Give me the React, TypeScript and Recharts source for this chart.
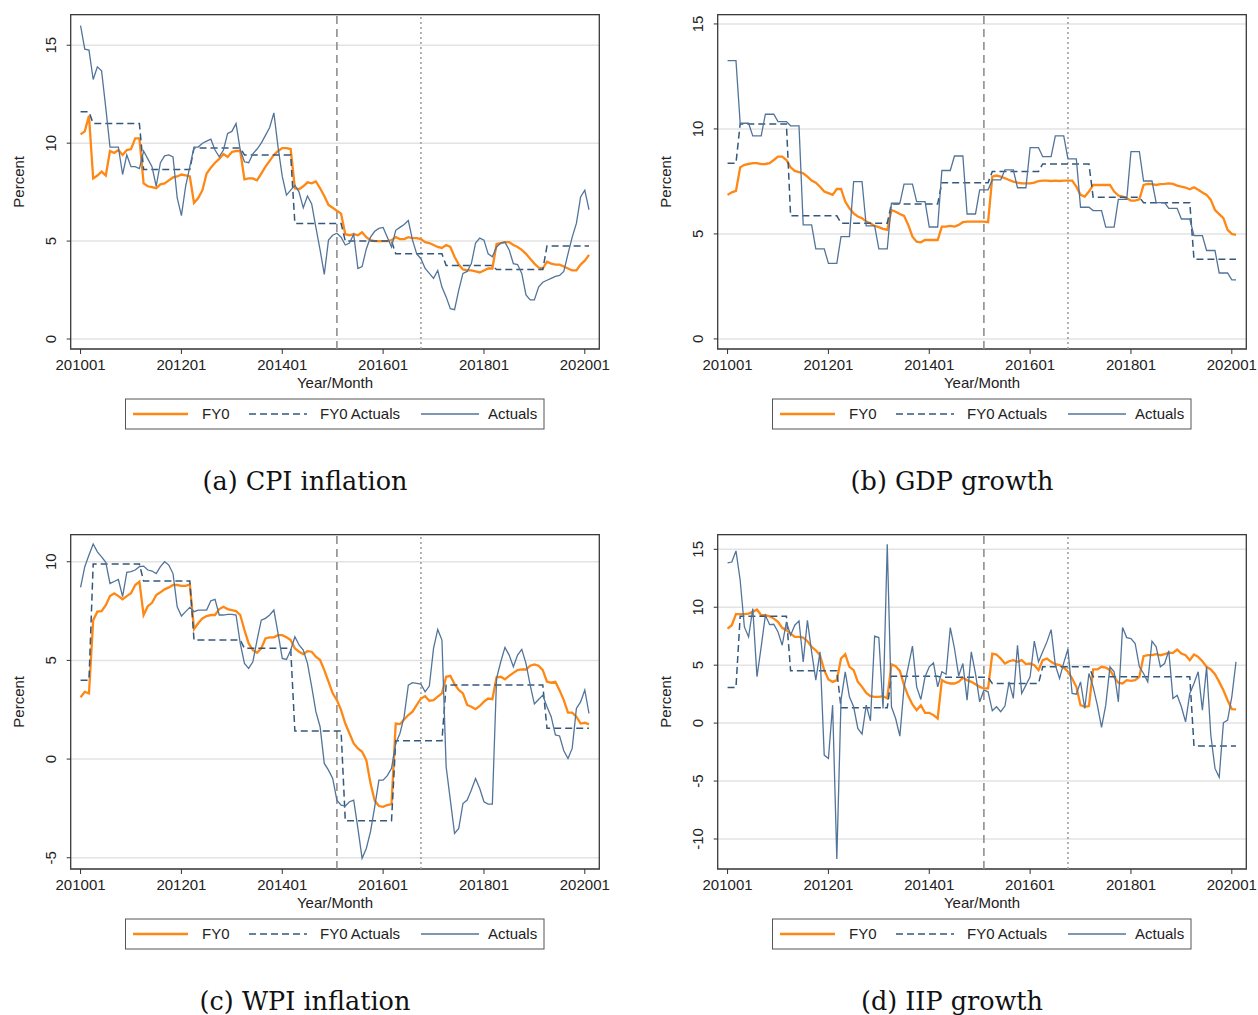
import React from 'react';
import { LineChart, Line, XAxis, YAxis, CartesianGrid, ReferenceLine, ReferenceArea, Label } from 'recharts';

// ---------- shared axis data ----------
const X_TICKS = [0, 24, 48, 72, 96, 120];
const X_TICK_LABELS = ['201001', '201201', '201401', '201601', '201801', '202001'];
const X_DOMAIN = [-2.35, 123.45];
const REF_DASHED = 61; // 201502
const REF_DOTTED = 81; // 201610
const LEGEND_LABELS = ['FY0', 'FY0 Actuals', 'Actuals'];

// ---------- (a) CPI inflation ----------
const cpiActuals = [
  16.0, 14.8, 14.75, 13.25, 13.9, 13.7, 11.8, 9.8, 9.8, 9.8,
  8.4, 9.4, 8.8, 8.8, 8.7, 9.6, 9.2, 8.8, 7.8, 9.0,
  9.35, 9.4, 9.3, 7.2, 6.3, 7.8, 8.8, 9.8, 9.8, 10.0,
  10.1, 10.2, 9.65, 9.3, 9.65, 10.5, 10.6, 11.0, 9.65, 9.05,
  9.0, 9.45, 9.7, 10.0, 10.4, 10.8, 11.55, 9.8, 8.3, 7.35,
  7.6, 7.85, 7.5, 6.7, 7.3, 6.9, 5.7, 4.55, 3.3, 5.05,
  5.3, 5.4, 5.2, 4.8, 4.9, 5.35, 3.6, 3.7, 4.6, 5.2,
  5.5, 5.65, 5.7, 5.2, 4.7, 5.55, 5.7, 5.85, 6.05, 5.05,
  4.35, 4.1, 3.6, 3.35, 3.1, 3.5, 2.65, 2.15, 1.55, 1.5,
  2.5, 3.35, 3.45, 3.85, 4.9, 5.15, 5.05, 4.35, 4.2, 4.7,
  4.9, 4.95, 4.55, 3.85, 3.8, 3.35, 2.25, 2.0, 2.0, 2.65,
  2.9, 3.0, 3.1, 3.2, 3.25, 3.45, 4.35, 5.2, 5.9, 7.25,
  7.6, 6.6,
];
const cpiFY0 = [
  10.45, 10.6, 11.4, 8.2, 8.35, 8.55, 8.35, 9.6, 9.5, 9.65,
  9.4, 9.65, 9.7, 10.25, 10.25, 7.95, 7.8, 7.75, 7.7, 7.9,
  7.95, 8.1, 8.25, 8.3, 8.4, 8.35, 8.3, 6.95, 7.2, 7.6,
  8.45, 8.75, 9.0, 9.2, 9.45, 9.3, 9.55, 9.6, 9.6, 8.15,
  8.2, 8.2, 8.1, 8.45, 8.8, 9.1, 9.4, 9.6, 9.75, 9.75,
  9.7, 7.7, 7.65, 7.8, 8.0, 7.95, 8.05, 7.7, 7.3, 6.85,
  6.7, 6.55, 6.4, 5.35, 5.3, 5.35, 5.3, 5.45, 5.2, 5.05,
  5.0, 5.0, 5.0, 5.0, 5.05, 5.2, 5.1, 5.1, 5.2, 5.15,
  5.15, 5.1, 4.95, 4.9, 4.8, 4.7, 4.65, 4.8, 4.7, 4.2,
  3.8, 3.55, 3.5, 3.5, 3.45, 3.4, 3.5, 3.6, 3.6, 4.85,
  4.9, 4.95, 4.95, 4.8, 4.7, 4.55, 4.35, 4.1, 3.85, 3.65,
  3.6, 3.95, 3.85, 3.8, 3.8, 3.7, 3.6, 3.5, 3.5, 3.8,
  4.0, 4.3,
];
const cpiFY0Actuals = [
  11.6, 11.6, 11.6,
  11.0, 11.0, 11.0, 11.0, 11.0, 11.0, 11.0, 11.0, 11.0, 11.0, 11.0, 11.0,
  8.65, 8.65, 8.65, 8.65, 8.65, 8.65, 8.65, 8.65, 8.65, 8.65, 8.65, 8.65,
  9.75, 9.75, 9.75, 9.75, 9.75, 9.75, 9.75, 9.75, 9.75, 9.75, 9.75, 9.75,
  9.4, 9.4, 9.4, 9.4, 9.4, 9.4, 9.4, 9.4, 9.4, 9.4, 9.4, 9.4,
  5.9, 5.9, 5.9, 5.9, 5.9, 5.9, 5.9, 5.9, 5.9, 5.9, 5.9, 5.9,
  5.0, 5.0, 5.0, 5.0, 5.0, 5.0, 5.0, 5.0, 5.0, 5.0, 5.0, 5.0,
  4.35, 4.35, 4.35, 4.35, 4.35, 4.35, 4.35, 4.35, 4.35, 4.35, 4.35, 4.35,
  3.75, 3.75, 3.75, 3.75, 3.75, 3.75, 3.75, 3.75, 3.75, 3.75, 3.75, 3.75,
  3.55, 3.55, 3.55, 3.55, 3.55, 3.55, 3.55, 3.55, 3.55, 3.55, 3.55, 3.55,
  4.75, 4.75, 4.75, 4.75, 4.75, 4.75, 4.75, 4.75, 4.75, 4.75, 4.75,
];
const cpiYTicks = [0, 5, 10, 15];
const cpiYDomain = [-0.51, 16.56];

// ---------- (b) GDP growth ----------
const gdpActuals = [
  13.25, 13.25, 13.25, 10.27, 10.27, 10.27, 9.67, 9.67, 9.67,
  10.7, 10.7, 10.7, 10.35, 10.35, 10.35, 10.15, 10.15, 10.15,
  5.43, 5.43, 5.43, 4.29, 4.29, 4.29, 3.6, 3.6, 3.6,
  4.87, 4.87, 4.87, 7.49, 7.49, 7.49, 5.38, 5.38, 5.38,
  4.29, 4.29, 4.29, 6.46, 6.46, 6.46, 7.37, 7.37, 7.37,
  6.54, 6.54, 6.54, 5.33, 5.33, 5.33, 8.02, 8.02, 8.02,
  8.71, 8.71, 8.71, 5.95, 5.95, 5.95, 7.1, 7.1, 7.1,
  7.57, 7.57, 7.57, 8.05, 8.05, 8.05, 7.2, 7.2, 7.2,
  9.11, 9.11, 9.11, 8.68, 8.68, 8.68, 9.67, 9.67, 9.67,
  8.57, 8.57, 8.57, 6.27, 6.27, 6.27, 6.11, 6.11, 6.11,
  5.32, 5.32, 5.32, 6.65, 6.65, 6.65, 8.92, 8.92, 8.92,
  7.52, 7.52, 7.52, 6.49, 6.49, 6.49, 6.22, 6.22, 6.22,
  5.71, 5.71, 5.71, 4.92, 4.92, 4.92, 4.21, 4.21, 4.21,
  3.14, 3.14, 3.14, 2.81, 2.81,
];
const gdpFY0 = [
  6.86, 6.98, 7.05, 8.17, 8.29, 8.33, 8.37, 8.37, 8.32, 8.33,
  8.37, 8.52, 8.68, 8.68, 8.52, 8.17, 8.0, 7.94, 7.89, 7.73,
  7.54, 7.44, 7.25, 7.02, 6.94, 6.86, 7.14, 7.14, 6.54, 6.22,
  5.98, 5.83, 5.75, 5.59, 5.51, 5.38, 5.32, 5.24, 5.19, 6.14,
  6.06, 5.95, 5.86, 5.43, 4.87, 4.63, 4.6, 4.71, 4.71, 4.71,
  4.71, 5.35, 5.35, 5.38, 5.35, 5.43, 5.56, 5.59, 5.59, 5.59,
  5.59, 5.59, 5.56, 7.73, 7.78, 7.73, 7.65, 7.57, 7.49, 7.44,
  7.41, 7.41, 7.41, 7.44, 7.52, 7.54, 7.54, 7.52, 7.54, 7.52,
  7.54, 7.54, 7.54, 7.25, 6.86, 6.78, 7.02, 7.33, 7.33, 7.33,
  7.33, 7.33, 7.02, 6.83, 6.78, 6.7, 6.59, 6.59, 6.65, 7.33,
  7.38, 7.37, 7.33, 7.37, 7.38, 7.41, 7.38, 7.3, 7.25, 7.21,
  7.13, 7.22, 7.1, 6.97, 6.86, 6.62, 6.14, 5.94, 5.75, 5.19,
  5.0, 4.95,
];
const gdpFY0Actuals = [
  8.37, 8.37, 8.37,
  10.24, 10.24, 10.24, 10.24, 10.24, 10.24, 10.24, 10.24, 10.24, 10.24, 10.24, 10.24,
  5.86, 5.86, 5.86, 5.86, 5.86, 5.86, 5.86, 5.86, 5.86, 5.86, 5.86, 5.86,
  5.51, 5.51, 5.51, 5.51, 5.51, 5.51, 5.51, 5.51, 5.51, 5.51, 5.51, 5.51,
  6.43, 6.43, 6.43, 6.43, 6.43, 6.43, 6.43, 6.43, 6.43, 6.43, 6.43, 6.43,
  7.44, 7.44, 7.44, 7.44, 7.44, 7.44, 7.44, 7.44, 7.44, 7.44, 7.44, 7.44,
  7.97, 7.97, 7.97, 7.97, 7.97, 7.97, 7.97, 7.97, 7.97, 7.97, 7.97, 7.97,
  8.33, 8.33, 8.33, 8.33, 8.33, 8.33, 8.33, 8.33, 8.33, 8.33, 8.33, 8.33,
  6.75, 6.75, 6.75, 6.75, 6.75, 6.75, 6.75, 6.75, 6.75, 6.75, 6.75, 6.75,
  6.49, 6.49, 6.49, 6.49, 6.49, 6.49, 6.49, 6.49, 6.49, 6.49, 6.49, 6.49,
  3.79, 3.79, 3.79, 3.79, 3.79, 3.79, 3.79, 3.79, 3.79, 3.79, 3.79,
];
const gdpYTicks = [0, 5, 10, 15];
const gdpYDomain = [-0.48, 15.44];

// ---------- (c) WPI inflation ----------
const wpiActuals = [
  8.7, 9.75, 10.34, 10.9, 10.5, 10.25, 9.97, 8.9, 9.0, 9.1,
  8.23, 9.46, 9.5, 9.58, 9.75, 9.78, 9.58, 9.53, 9.4, 9.75,
  10.0, 9.83, 9.4, 7.72, 7.25, 7.47, 7.69, 7.47, 7.55, 7.55,
  7.55, 8.02, 8.09, 7.3, 7.3, 7.33, 7.33, 7.3, 5.86, 4.85,
  4.6, 4.93, 6.03, 7.04, 7.13, 7.3, 7.55, 6.37, 5.1, 5.05,
  5.52, 6.2, 5.78, 5.52, 4.85, 3.67, 2.4, 1.64, -0.22, -0.56,
  -0.98, -2.08, -2.33, -2.38, -2.16, -2.08, -3.51, -5.03, -4.53, -3.68,
  -2.42, -1.07, -1.07, -0.84, -0.47, 0.79, 1.3, 2.15, 3.75, 3.87,
  3.84, 3.8, 3.41, 3.7, 5.61, 6.57, 6.03, -0.39, -2.08, -3.77,
  -3.51, -2.25, -2.08, -1.57, -0.98, -1.49, -2.16, -2.28, -2.28, 4.09,
  4.93, 5.66, 5.27, 4.68, 5.27, 5.56, 4.85, 3.75, 2.79, 3.02,
  3.24, 2.65, 2.15, 1.22, 1.17, 0.42, 0.03, 0.54, 2.57, 2.9,
  3.5, 2.31,
];
const wpiFY0 = [
  3.13, 3.41, 3.33, 7.04, 7.47, 7.5, 7.8, 8.26, 8.4, 8.26,
  8.1, 8.26, 8.4, 8.82, 8.99, 7.3, 7.75, 7.92, 8.31, 8.45,
  8.6, 8.7, 8.82, 8.82, 8.78, 8.78, 8.85, 6.59, 6.88, 7.13,
  7.25, 7.3, 7.3, 7.6, 7.72, 7.6, 7.55, 7.5, 7.3, 6.54,
  5.86, 5.52, 5.39, 5.61, 6.11, 6.17, 6.17, 6.28, 6.28, 6.17,
  6.03, 5.61, 5.44, 5.32, 5.47, 5.44, 5.19, 5.02, 4.51, 3.92,
  3.33, 2.99, 2.48, 1.8, 1.3, 0.79, 0.54, 0.37, -0.05, -1.23,
  -2.11, -2.38, -2.42, -2.33, -2.28, 1.8, 1.77, 2.01, 2.23, 2.4,
  2.74, 3.07, 3.19, 2.96, 2.99, 3.16, 3.33, 4.17, 4.22, 3.8,
  3.5, 3.33, 2.74, 2.65, 2.53, 2.69, 2.91, 3.07, 3.04, 4.14,
  4.17, 4.04, 4.22, 4.37, 4.51, 4.54, 4.54, 4.73, 4.8, 4.73,
  4.51, 3.92, 3.87, 3.92, 3.48, 2.99, 2.35, 2.35, 2.15, 1.8,
  1.84, 1.76,
];
const wpiFY0Actuals = [
  4.0, 4.0, 4.0,
  9.88, 9.88, 9.88, 9.88, 9.88, 9.88, 9.88, 9.88, 9.88, 9.88, 9.88, 9.88,
  9.02, 9.02, 9.02, 9.02, 9.02, 9.02, 9.02, 9.02, 9.02, 9.02, 9.02, 9.02,
  6.03, 6.03, 6.03, 6.03, 6.03, 6.03, 6.03, 6.03, 6.03, 6.03, 6.03, 6.03,
  5.61, 5.61, 5.61, 5.61, 5.61, 5.61, 5.61, 5.61, 5.61, 5.61, 5.61, 5.61,
  1.42, 1.42, 1.42, 1.42, 1.42, 1.42, 1.42, 1.42, 1.42, 1.42, 1.42, 1.42,
  -3.13, -3.13, -3.13, -3.13, -3.13, -3.13, -3.13, -3.13, -3.13, -3.13, -3.13, -3.13,
  0.93, 0.93, 0.93, 0.93, 0.93, 0.93, 0.93, 0.93, 0.93, 0.93, 0.93, 0.93,
  3.75, 3.75, 3.75, 3.75, 3.75, 3.75, 3.75, 3.75, 3.75, 3.75, 3.75, 3.75,
  3.75, 3.75, 3.75, 3.75, 3.75, 3.75, 3.75, 3.75, 3.75, 3.75, 3.75, 3.75,
  1.56, 1.56, 1.56, 1.56, 1.56, 1.56, 1.56, 1.56, 1.56, 1.56, 1.56,
];
const wpiYTicks = [-5, 0, 5, 10];
const wpiYDomain = [-5.57, 11.37];

// ---------- (d) IIP growth ----------
const iipActuals = [
  13.82, 13.9, 14.86, 12.33, 8.3, 7.44, 9.89, 4.0, 6.58, 9.31,
  8.5, 8.53, 7.87, 6.72, 8.74, 7.59, 8.45, 8.82, 5.29, 8.88,
  6.15, 3.71, 6.15, -2.76, -3.05, 1.55, -11.72, 1.98, 4.43, 2.27,
  1.41, -0.46, -0.95, 1.55, 0.2, 7.5, 7.38, 1.26, 15.43, 1.41,
  0.4, -1.12, 3.13, 4.86, 6.64, 3.13, 2.04, 4.0, 4.86, 5.2,
  3.13, 4.43, 4.22, 8.25, 6.44, 4.08, 5.14, 1.98, 6.15, 4.28,
  1.84, 2.84, 2.7, 1.06, 1.41, 0.98, 1.47, 3.56, 2.13, 6.72,
  2.56, 3.28, 4.0, 7.07, 5.29, 6.15, 7.01, 8.07, 5.0, 3.85,
  5.2, 6.38, 2.56, 2.5, 3.56, 1.26, 4.28, 3.13, 1.55, -0.37,
  1.55, 4.86, 4.43, 1.84, 8.25, 7.38, 7.3, 6.87, 4.86, 4.28,
  3.56, 7.07, 6.58, 4.86, 5.14, 6.24, 2.13, 2.41, 1.41, 0.11,
  2.56, 3.42, 4.43, 1.12, 4.86, -1.03, -3.91, -4.68, 0.03, 0.26,
  2.27, 5.29,
];
const iipFY0 = [
  8.16, 8.45, 9.4, 9.4, 9.4, 9.45, 9.6, 9.8, 9.31, 9.31,
  9.22, 9.02, 8.74, 8.22, 8.02, 7.73, 7.44, 7.44, 7.38, 7.07,
  6.58, 6.29, 5.86, 4.57, 3.76, 3.56, 3.71, 5.57, 5.95, 4.86,
  4.57, 3.56, 3.13, 2.61, 2.33, 2.27, 2.27, 2.33, 2.13, 5.06,
  4.91, 4.51, 3.28, 2.33, 1.61, 1.12, 1.55, 0.89, 0.89, 0.69,
  0.4, 3.71, 3.51, 3.42, 3.42, 3.56, 3.91, 3.71, 3.56, 3.36,
  3.13, 2.99, 2.99, 6.0, 5.92, 5.57, 5.14, 5.34, 5.43, 5.29,
  5.43, 5.09, 5.14, 5.0, 4.57, 5.43, 5.57, 5.29, 5.09, 5.0,
  4.8, 4.43, 3.85, 3.13, 1.55, 1.41, 1.47, 4.63, 4.63, 4.86,
  4.8, 4.57, 4.0, 3.48, 3.42, 3.71, 3.65, 3.71, 4.0, 5.78,
  5.86, 5.86, 5.95, 5.86, 5.95, 6.06, 6.06, 6.35, 6.0, 5.86,
  5.43, 5.92, 5.72, 5.34, 4.86, 4.63, 4.22, 3.56, 2.84, 1.98,
  1.21, 1.18,
];
const iipFY0Actuals = [
  3.07, 3.07, 3.07,
  9.22, 9.22, 9.22, 9.22, 9.22, 9.22, 9.22, 9.22, 9.22, 9.22, 9.22, 9.22,
  4.51, 4.51, 4.51, 4.51, 4.51, 4.51, 4.51, 4.51, 4.51, 4.51, 4.51, 4.51,
  1.32, 1.32, 1.32, 1.32, 1.32, 1.32, 1.32, 1.32, 1.32, 1.32, 1.32, 1.32,
  4.05, 4.05, 4.05, 4.05, 4.05, 4.05, 4.05, 4.05, 4.05, 4.05, 4.05, 4.05,
  3.95, 3.95, 3.95, 3.95, 3.95, 3.95, 3.95, 3.95, 3.95, 3.95, 3.95, 3.95,
  3.42, 3.42, 3.42, 3.42, 3.42, 3.42, 3.42, 3.42, 3.42, 3.42, 3.42, 3.42,
  4.86, 4.86, 4.86, 4.86, 4.86, 4.86, 4.86, 4.86, 4.86, 4.86, 4.86, 4.86,
  4.0, 4.0, 4.0, 4.0, 4.0, 4.0, 4.0, 4.0, 4.0, 4.0, 4.0, 4.0,
  4.0, 4.0, 4.0, 4.0, 4.0, 4.0, 4.0, 4.0, 4.0, 4.0, 4.0, 4.0,
  -1.98, -1.98, -1.98, -1.98, -1.98, -1.98, -1.98, -1.98, -1.98, -1.98, -1.98,
];
const iipYTicks = [-10, -5, 0, 5, 10, 15];
const iipYDomain = [-12.59, 16.26];

// ---------- styles ----------
const SANS = "'Liberation Sans', Arial, Helvetica, sans-serif";
const SERIF = "'DejaVu Serif', 'Liberation Serif', serif";
const ORANGE = '#ff8714';
const NAVY = '#34587c';
const BLUE = '#52749a';
const TEXT = '#222';

const XTick = (props: any) => {
  const { x, y, payload } = props;
  const idx = X_TICKS.indexOf(payload.value);
  return (
    <text x={x} y={y + 16} textAnchor="middle" fontSize={15} fontFamily={SANS} fill={TEXT}>
      {X_TICK_LABELS[idx]}
    </text>
  );
};

const YTick = (props: any) => {
  const { x, y, payload } = props;
  return (
    <text transform={`translate(${x - 10.3},${y}) rotate(-90)`} textAnchor="middle" fontSize={15} fontFamily={SANS} fill={TEXT}>
      {payload.value}
    </text>
  );
};

const XLabelContent = (props: any) => {
  const vb = props.viewBox || {};
  return (
    <text x={vb.x + vb.width / 2} y={vb.y + 39} textAnchor="middle" fontSize={15} fontFamily={SANS} fill={TEXT}>
      Year/Month
    </text>
  );
};

const YLabelContent = (props: any) => {
  const vb = props.viewBox || {};
  return (
    <text transform={`translate(${vb.x + 24},${vb.y + vb.height / 2}) rotate(-90)`} textAnchor="middle" fontSize={15} fontFamily={SANS} fill={TEXT}>
      Percent
    </text>
  );
};

type PanelProps = {
  left: number;
  top: number;
  fy0: number[];
  fya: number[];
  act: number[];
  yTicks: number[];
  yDomain: number[];
  caption: string;
};

const Panel = ({ left, top, fy0, fya, act, yTicks, yDomain, caption }: PanelProps) => {
  const data = act.map((v, i) => ({ t: i, fy0: fy0[i], fya: fya[i], act: v }));
  return (
    <div style={{ position: 'absolute', left, top, width: 620, height: 510 }}>
      <LineChart width={620} height={400} data={data} margin={{ top: 14.7, right: 20.7, left: 0, bottom: 0 }}>
        <CartesianGrid vertical={false} stroke="#e3e3e3" strokeWidth={1.5} />
        <XAxis
          dataKey="t"
          type="number"
          domain={X_DOMAIN}
          ticks={X_TICKS}
          allowDataOverflow
          interval={0}
          height={51}
          tickSize={5}
          tickMargin={0}
          axisLine={false}
          tickLine={{ stroke: '#333', strokeWidth: 1 }}
          tick={<XTick />}
        >
          <Label content={XLabelContent} />
        </XAxis>
        <YAxis
          type="number"
          domain={yDomain}
          ticks={yTicks}
          allowDataOverflow
          interval={0}
          width={70.7}
          tickSize={4}
          tickMargin={0}
          axisLine={false}
          tickLine={{ stroke: '#333', strokeWidth: 1 }}
          tick={<YTick />}
        >
          <Label content={YLabelContent} />
        </YAxis>
        <ReferenceLine x={REF_DASHED} stroke="#8f8f8f" strokeWidth={1.6} strokeDasharray="8 5" />
        <ReferenceLine x={REF_DOTTED} stroke="#a0a0a0" strokeWidth={1.6} strokeDasharray="2 3" />
        <Line type="linear" dataKey="fy0" stroke={ORANGE} strokeWidth={2.3} dot={false} activeDot={false} isAnimationActive={false} />
        <Line type="linear" dataKey="fya" stroke={NAVY} strokeWidth={1.5} strokeDasharray="7 4" dot={false} activeDot={false} isAnimationActive={false} />
        <Line type="linear" dataKey="act" stroke={BLUE} strokeWidth={1.3} dot={false} activeDot={false} isAnimationActive={false} />
        <ReferenceArea
          x1={X_DOMAIN[0]}
          x2={X_DOMAIN[1]}
          y1={yDomain[0]}
          y2={yDomain[1]}
          fill="none"
          fillOpacity={0}
          stroke="#3a3a3a"
          strokeWidth={1.3}
          ifOverflow="visible"
        />
      </LineChart>
      <svg width={620} height={114} style={{ position: 'absolute', left: 0, top: 396 }}>
        <rect x={125.5} y={3} width={418.5} height={30} fill="#fff" stroke="#555" strokeWidth={1} />
        <line x1={133} x2={188} y1={18} y2={18} stroke={ORANGE} strokeWidth={2.3} />
        <text x={202} y={23.4} fontSize={15} fontFamily={SANS} fill={TEXT}>{LEGEND_LABELS[0]}</text>
        <line x1={249} x2={307} y1={18} y2={18} stroke={NAVY} strokeWidth={1.5} strokeDasharray="7 4" />
        <text x={320} y={23.4} fontSize={15} fontFamily={SANS} fill={TEXT}>{LEGEND_LABELS[1]}</text>
        <line x1={421} x2={479} y1={18} y2={18} stroke={BLUE} strokeWidth={1.3} />
        <text x={488} y={23.4} fontSize={15} fontFamily={SANS} fill={TEXT}>{LEGEND_LABELS[2]}</text>
        <text x={305} y={94} textAnchor="middle" fontSize={25.5} fontFamily={SERIF} fill="#111">{caption}</text>
      </svg>
    </div>
  );
};

export default function App() {
  return (
    <div style={{ position: 'absolute', left: 0, top: 0, width: 1258, height: 1015, background: '#fff', overflow: 'hidden' }}>
      <Panel left={0} top={0} fy0={cpiFY0} fya={cpiFY0Actuals} act={cpiActuals} yTicks={cpiYTicks} yDomain={cpiYDomain} caption="(a) CPI inflation" />
      <Panel left={647.3} top={0} fy0={gdpFY0} fya={gdpFY0Actuals} act={gdpActuals} yTicks={gdpYTicks} yDomain={gdpYDomain} caption="(b) GDP growth" />
      <Panel left={0} top={520} fy0={wpiFY0} fya={wpiFY0Actuals} act={wpiActuals} yTicks={wpiYTicks} yDomain={wpiYDomain} caption="(c) WPI inflation" />
      <Panel left={647.3} top={520} fy0={iipFY0} fya={iipFY0Actuals} act={iipActuals} yTicks={iipYTicks} yDomain={iipYDomain} caption="(d) IIP growth" />
    </div>
  );
}
